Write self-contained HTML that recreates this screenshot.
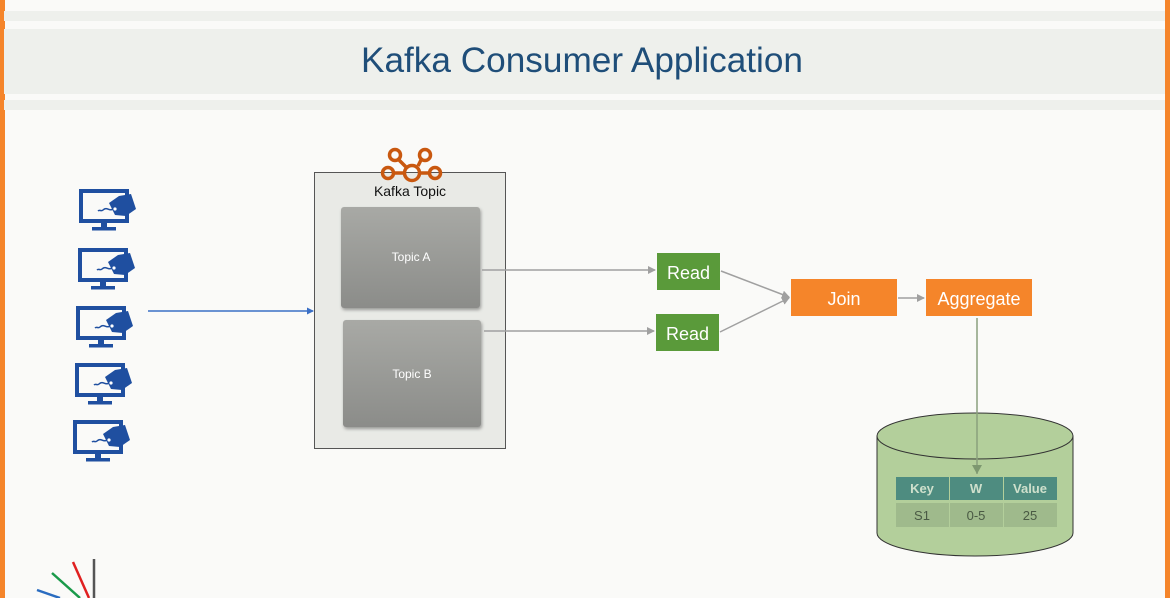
<!DOCTYPE html>
<html><head><meta charset="utf-8"><style>
html,body{margin:0;padding:0;background:#fafaf8;}
svg{display:block;font-family:"Liberation Sans",sans-serif;}
</style></head><body>
<svg width="1170" height="598" viewBox="0 0 1170 598" xmlns="http://www.w3.org/2000/svg">
<defs>
<linearGradient id="tg" x1="0" y1="0" x2="0" y2="1"><stop offset="0" stop-color="#a8a9a5"/><stop offset="1" stop-color="#8b8c89"/></linearGradient>
<filter id="sh" x="-10%" y="-10%" width="120%" height="125%"><feDropShadow dx="1" dy="2" stdDeviation="1.5" flood-color="#000" flood-opacity="0.35"/></filter>
<g id="mon">
<rect x="2" y="2" width="46" height="30" fill="none" stroke="#1f4fa0" stroke-width="4"/>
<rect x="22" y="33" width="6" height="6" fill="#1f4fa0"/>
<rect x="13" y="38" width="24" height="3.5" fill="#1f4fa0"/>
<path d="M30 14 L40 7 L52 5 L57 20 L47 27 L36 26 Z" fill="#1f4fa0"/>
<circle cx="36" cy="20" r="1.6" fill="#fff"/>
<path d="M34 20 C30 23 28 17 24 21 C22 23 21 20 19 22" fill="none" stroke="#1f4fa0" stroke-width="1.5"/>
</g>
<marker id="ag" markerWidth="8" markerHeight="8" refX="7" refY="4" orient="auto" markerUnits="userSpaceOnUse"><path d="M0 0 L8 4 L0 8 Z" fill="#a0a0a0"/></marker>
<marker id="ab" markerWidth="7" markerHeight="7" refX="6" refY="3.5" orient="auto" markerUnits="userSpaceOnUse"><path d="M0 0 L7 3.5 L0 7 Z" fill="#3a6fc6"/></marker>
<marker id="agr" markerWidth="10" markerHeight="10" refX="9" refY="5" orient="auto" markerUnits="userSpaceOnUse"><path d="M0 0 L9 5 L0 10 Z" fill="#7d9870"/></marker>
</defs>
<rect width="1170" height="598" fill="#fafaf8"/>
<rect x="0" y="0" width="5" height="598" fill="#f5852a"/>
<rect x="1165" y="0" width="5" height="598" fill="#f5852a"/>
<rect x="4" y="11" width="1161" height="10" fill="#eef0ec"/>
<rect x="4" y="29" width="1161" height="65" fill="#eef0ec"/>
<rect x="4" y="100" width="1161" height="10" fill="#eef0ec"/>
<text x="582" y="72" text-anchor="middle" font-size="35" fill="#1f4e79" textLength="442" lengthAdjust="spacingAndGlyphs">Kafka Consumer Application</text>

<use href="#mon" x="79" y="189"/>
<use href="#mon" x="78" y="248"/>
<use href="#mon" x="76" y="306"/>
<use href="#mon" x="75" y="363"/>
<use href="#mon" x="73" y="420"/>
<line x1="148" y1="311" x2="313" y2="311" stroke="#3a6fc6" stroke-width="1.5" marker-end="url(#ab)"/>

<rect x="314.5" y="172.5" width="191" height="276" fill="#e9eae6" stroke="#555" stroke-width="1"/>
<g fill="none" stroke="#c9580f" stroke-width="3.5">
<circle cx="395" cy="155" r="5.5"/><circle cx="425" cy="155" r="5.5"/>
<circle cx="388" cy="173" r="5.5"/><circle cx="412" cy="173" r="7.5"/><circle cx="435" cy="173" r="5.5"/>
<line x1="399" y1="160" x2="406" y2="167"/><line x1="421" y1="160" x2="418" y2="166"/>
<line x1="394" y1="173" x2="404" y2="173"/><line x1="420" y1="173" x2="429" y2="173"/>
</g>
<text x="410" y="196" text-anchor="middle" font-size="14" fill="#111">Kafka Topic</text>
<rect x="341" y="207" width="139" height="101" rx="3" fill="url(#tg)" filter="url(#sh)"/>
<rect x="343" y="320" width="138" height="107" rx="3" fill="url(#tg)" filter="url(#sh)"/>
<text x="411" y="261" text-anchor="middle" font-size="12" fill="#fff">Topic A</text>
<text x="412" y="378" text-anchor="middle" font-size="12" fill="#fff">Topic B</text>

<g stroke="#a0a0a0" stroke-width="1.5" fill="none">
<line x1="482" y1="270" x2="655" y2="270" marker-end="url(#ag)"/>
<line x1="484" y1="331" x2="654" y2="331" marker-end="url(#ag)"/>
<line x1="721" y1="271" x2="789" y2="297" marker-end="url(#ag)"/>
<line x1="720" y1="332" x2="789" y2="298" marker-end="url(#ag)"/>
<line x1="898" y1="298" x2="924" y2="298" marker-end="url(#ag)"/>
</g>
<rect x="657" y="253" width="63" height="37" fill="#5a9a3a"/>
<rect x="656" y="314" width="63" height="37" fill="#5a9a3a"/>
<text x="688.5" y="279" text-anchor="middle" font-size="18" fill="#fff">Read</text>
<text x="687.5" y="340" text-anchor="middle" font-size="18" fill="#fff">Read</text>
<rect x="791" y="279" width="106" height="37" fill="#f5852a"/>
<rect x="926" y="279" width="106" height="37" fill="#f5852a"/>
<text x="844" y="305" text-anchor="middle" font-size="18" fill="#fff">Join</text>
<text x="979" y="305" text-anchor="middle" font-size="18" fill="#fff">Aggregate</text>

<path d="M877 436 L877 533 A98 23 0 0 0 1073 533 L1073 436 Z" fill="#b3cf9b" stroke="#333" stroke-width="1"/>
<ellipse cx="975" cy="436" rx="98" ry="23" fill="#b3cf9b" stroke="#333" stroke-width="1"/>
<line x1="977" y1="318" x2="977" y2="474" stroke="#8aa07d" stroke-width="1.5" marker-end="url(#agr)"/>
<g font-size="13" text-anchor="middle">
<rect x="896" y="477" width="53" height="23" fill="#4e8c80"/>
<rect x="950" y="477" width="53" height="23" fill="#4e8c80"/>
<rect x="1004" y="477" width="53" height="23" fill="#4e8c80"/>
<rect x="896" y="503" width="53" height="24" fill="#9fba8c"/>
<rect x="950" y="503" width="53" height="24" fill="#9fba8c"/>
<rect x="1004" y="503" width="53" height="24" fill="#9fba8c"/>
<text x="922" y="493" fill="#cfe0cc" font-weight="bold">Key</text>
<text x="976" y="493" fill="#cfe0cc" font-weight="bold">W</text>
<text x="1030" y="493" fill="#cfe0cc" font-weight="bold">Value</text>
<text x="922" y="520" fill="#4a5a44">S1</text>
<text x="976" y="520" fill="#4a5a44">0-5</text>
<text x="1030" y="520" fill="#4a5a44">25</text>
</g>

<g stroke-width="2.5">
<line x1="37" y1="590" x2="60" y2="598" stroke="#2a6cc0"/>
<line x1="52" y1="573" x2="80" y2="598" stroke="#1a9a4a"/>
<line x1="73" y1="562" x2="89" y2="598" stroke="#e02020"/>
<line x1="94" y1="559" x2="94" y2="598" stroke="#555"/>
</g>
</svg>
</body></html>
